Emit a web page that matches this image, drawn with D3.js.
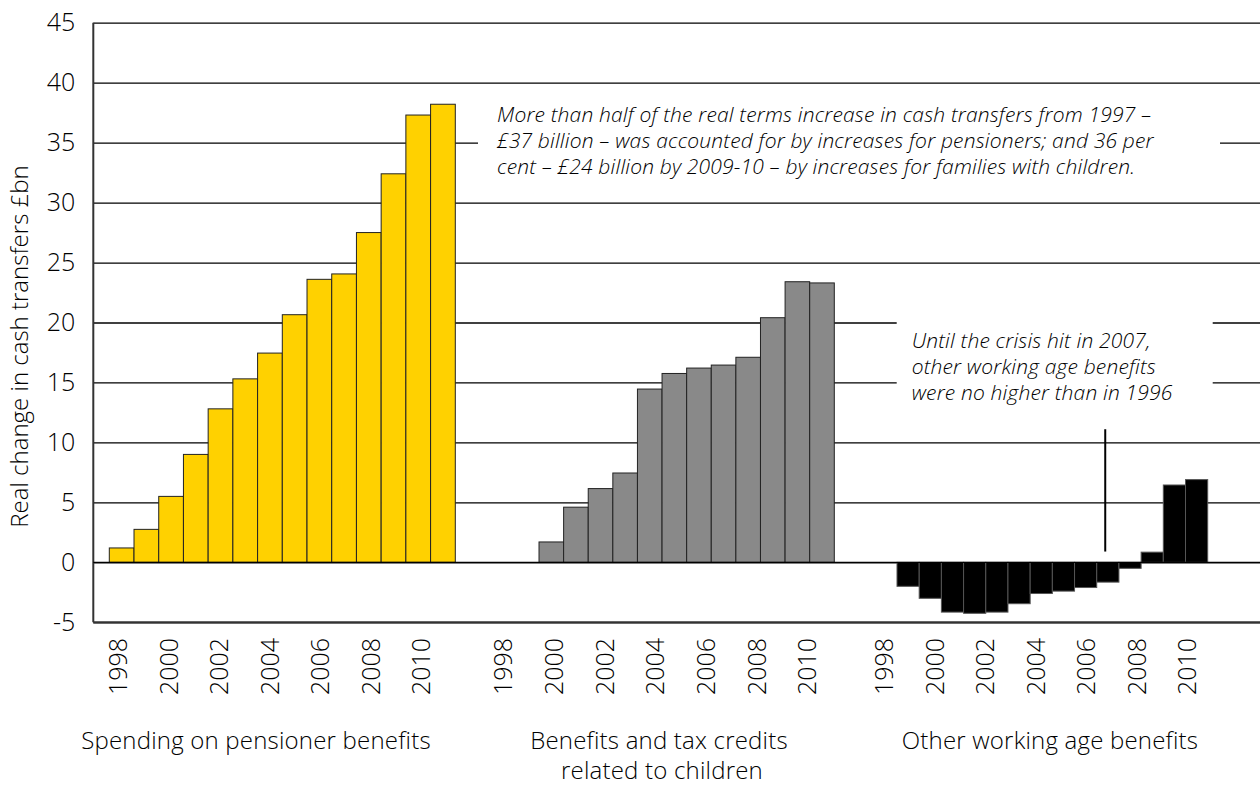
<!DOCTYPE html>
<html>
<head>
<meta charset="utf-8">
<script src="https://cdn.jsdelivr.net/npm/d3@7"></script>
<style>
  html, body { margin: 0; padding: 0; background: #fff; }
  svg { display: block; }
  text { font-family: "Open Sans", "DejaVu Sans", sans-serif; font-weight: 300; fill: #000; }
</style>
</head>
<body>
<svg id="chart" width="1260" height="787"></svg>
<script>
// ---------- data ----------
const years = [1998, 1999, 2000, 2001, 2002, 2003, 2004, 2005, 2006, 2007, 2008, 2009, 2010, 2011];
const pensionerBenefits = [1.2, 2.75, 5.5, 9.0, 12.8, 15.3, 17.45, 20.65, 23.6, 24.05, 27.5, 32.4, 37.3, 38.2];
const childBenefits = [null, null, 1.7, 4.6, 6.15, 7.45, 14.45, 15.75, 16.2, 16.45, 17.1, 20.4, 23.4, 23.3];
const workingAgeBenefits = [-2.0, -3.0, -4.15, -4.25, -4.15, -3.45, -2.6, -2.4, -2.1, -1.65, -0.5, 0.85, 6.45, 6.9];
const yearTicks = [1998, 2000, 2002, 2004, 2006, 2008, 2010];
const yTicks = [-5, 0, 5, 10, 15, 20, 25, 30, 35, 40, 45];
const groupNames = [
  ["Spending on pensioner benefits"],
  ["Benefits and tax credits", "related to children"],
  ["Other working age benefits"]
];
const groupColors = ["#FFD100", "#898989", "#000000"];
const yAxisTitle = "Real change in cash transfers £bn";
const note1 = [
  "More than half of the real terms increase in cash transfers from 1997 –",
  "£37 billion – was accounted for by increases for pensioners; and 36 per",
  "cent – £24 billion by 2009-10 – by increases for families with children."
];
const note2 = [
  "Until the crisis hit in 2007,",
  "other working age benefits",
  "were no higher than in 1996"
];
const crisisMarker = { year: 2006.75, from: 0.9, to: 11.1 };

// ---------- layout ----------
const svg = d3.select("#chart");
const plotL = 93.3, plotR = 1260, plotT = 22.7, plotB = 622.3;
const y = d3.scaleLinear().domain([-5, 45]).range([plotB, plotT]);

// per-group bar and label scales
const groups = [
  { values: pensionerBenefits, bars: [109.3, 455.3], labels: [118.3, 421], name: [256, 256] },
  { values: childBenefits, bars: [489.8, 834.3], labels: [503.3, 807.3], name: [659, 662] },
  { values: workingAgeBenefits, bars: [897, 1207.7], labels: [884.3, 1187.3], name: [1050, 1050] }
];
groups.forEach(g => {
  g.x = d3.scaleBand().domain(years).range(g.bars).padding(0);
  g.lx = d3.scaleLinear().domain([1998, 2010]).range(g.labels);
});

// gridlines + y tick labels
const yAxis = svg.append("g")
  .attr("transform", `translate(${plotL},0)`)
  .call(d3.axisLeft(y).tickValues(yTicks).tickSize(-(plotR - plotL)).tickPadding(18).tickFormat(d => String(d)));
yAxis.select(".domain").remove();
yAxis.selectAll(".tick line").attr("stroke", "#000").attr("stroke-width", 1.3);
yAxis.selectAll(".tick text")
  .style("font-size", "25px")
  .style("font-family", '"Open Sans", sans-serif')
  .style("font-weight", 300)
  .attr("fill", "#000");

// white boxes behind annotations
svg.append("rect").attr("x", 478).attr("y", y(38)).attr("width", 1220 - 478).attr("height", y(31) - y(38)).attr("fill", "#fff");
svg.append("rect").attr("x", 896.7).attr("y", y(22.5)).attr("width", 1212.7 - 896.7).attr("height", y(12) - y(22.5)).attr("fill", "#fff");

// frame
svg.append("line").attr("x1", plotL).attr("x2", plotL).attr("y1", y(45)).attr("y2", y(-5))
  .attr("stroke", "#333").attr("stroke-width", 2);
svg.append("line").attr("x1", plotL).attr("x2", plotR).attr("y1", y(-5)).attr("y2", y(-5))
  .attr("stroke", "#333").attr("stroke-width", 2);

// bars
groups.forEach((g, gi) => {
  const data = years.map((yr, i) => ({ yr, v: g.values[i] })).filter(d => d.v != null);
  svg.append("g").selectAll("rect").data(data).join("rect")
    .attr("x", d => g.x(d.yr))
    .attr("width", g.x.bandwidth())
    .attr("y", d => y(Math.max(0, d.v)))
    .attr("height", d => Math.abs(y(d.v) - y(0)))
    .attr("fill", groupColors[gi])
    .attr("stroke", gi === 2 ? "#555" : "#222")
    .attr("stroke-width", 1);
});

// zero line on top
svg.append("line").attr("x1", plotL).attr("x2", plotR).attr("y1", y(0)).attr("y2", y(0))
  .attr("stroke", "#000").attr("stroke-width", 1.3);

// year labels
groups.forEach(g => {
  svg.append("g").selectAll("text").data(yearTicks).join("text")
    .attr("transform", d => `translate(${g.lx(d)},638) rotate(-90)`)
    .attr("text-anchor", "end")
    .attr("dy", "0.36em")
    .style("font-size", "25px")
    .text(d => d);
});

// group names
groups.forEach((g, gi) => {
  groupNames[gi].forEach((line, li) => {
    svg.append("text")
      .attr("x", g.name[li]).attr("y", 749 + li * 30)
      .attr("text-anchor", "middle")
      .style("font-size", "24px")
      .style("letter-spacing", "0.2px")
      .text(line);
  });
});

// y axis title
svg.append("text")
  .attr("transform", `translate(20,${(plotT + plotB) / 2 + 24}) rotate(-90)`)
  .attr("text-anchor", "middle")
  .attr("dy", "0.35em")
  .style("font-size", "24px")
  .text(yAxisTitle);

// annotations
function note(lines, x, y0) {
  lines.forEach((line, i) => {
    svg.append("text").attr("x", x).attr("y", y0 + i * 26)
      .style("font-size", "21px").style("font-style", "italic")
      .style("letter-spacing", "0.17px")
      .text(line);
  });
}
note(note1, 497, 122);
note(note2, 911.7, 348);

// crisis marker line
const g3 = groups[2];
svg.append("line")
  .attr("x1", g3.lx(crisisMarker.year)).attr("x2", g3.lx(crisisMarker.year))
  .attr("y1", y(crisisMarker.to)).attr("y2", y(crisisMarker.from))
  .attr("stroke", "#000").attr("stroke-width", 2);
</script>
</body>
</html>
